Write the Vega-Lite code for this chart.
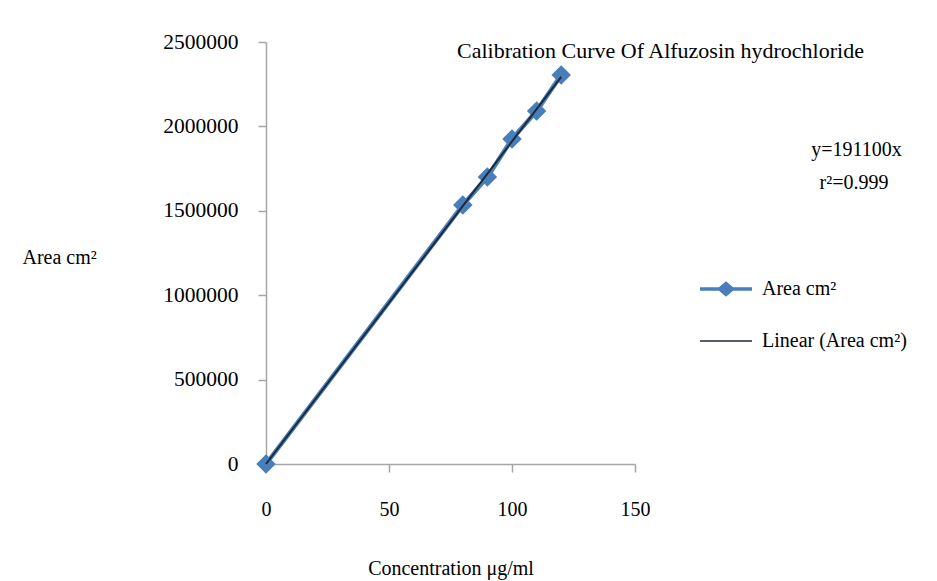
{
  "$schema": "https://vega.github.io/schema/vega-lite/v6.json",
  "autosize": "none",
  "width": 369,
  "height": 422,
  "padding": {"left": 266, "top": 42, "right": 302, "bottom": 117},
  "background": "white",
  "config": {
    "view": {"stroke": null},
    "font": "Liberation Serif",
    "axis": {"grid": false, "domainColor": "#a6a6a6", "tickColor": "#a6a6a6", "domainWidth": 1.5, "tickWidth": 1.5, "labelFont": "Liberation Serif", "titleFont": "Liberation Serif", "labelColor": "#000000", "titleColor": "#000000", "titleFontWeight": "normal", "labelFontSize": 20, "titleFontSize": 20}
  },
  "title": {"text": "Calibration Curve Of Alfuzosin hydrochloride", "anchor": "start", "frame": "group", "dx": 191, "offset": 0, "baseline": "middle", "dy": 42, "font": "Liberation Serif", "fontSize": 22, "fontWeight": "normal", "color": "#000000"},
  "datasets": {
    "pts": [
      {"conc": 0, "area": 0, "series": "Area cm²"},
      {"conc": 80, "area": 1534000, "series": "Area cm²"},
      {"conc": 90, "area": 1700000, "series": "Area cm²"},
      {"conc": 100, "area": 1925000, "series": "Area cm²"},
      {"conc": 110, "area": 2091000, "series": "Area cm²"},
      {"conc": 120, "area": 2304000, "series": "Area cm²"}
    ],
    "trend": [
      {"conc": 0, "area": 0, "series": "Linear (Area cm²)"},
      {"conc": 120, "area": 2293200, "series": "Linear (Area cm²)"}
    ],
    "notes": [
      {"conc": 240, "area": 1862000, "label": "y=191100x"},
      {"conc": 239, "area": 1667000, "label": "r²=0.999"}
    ]
  },
  "layer": [
    {
      "data": {"name": "pts"},
      "mark": {"type": "line", "strokeWidth": 4.5},
      "encoding": {
        "x": {"field": "conc", "type": "quantitative", "scale": {"domain": [0, 150], "nice": false}, "axis": {"values": [0, 50, 100, 150], "tickSize": 8, "labelPadding": 27, "labelFlush": false, "title": "Concentration μg/ml", "titleY": 104, "titleBaseline": "middle"}},
        "y": {"field": "area", "type": "quantitative", "scale": {"domain": [0, 2500000], "nice": false}, "axis": {"values": [0, 500000, 1000000, 1500000, 2000000, 2500000], "format": "d", "tickSize": 8, "labelPadding": 20, "labelFontSize": 21.5, "title": "Area cm²", "titleAngle": 0, "titleAlign": "left", "titleBaseline": "middle", "titleX": -244, "titleY": 215}},
        "color": {"field": "series", "type": "nominal", "scale": {"domain": ["Area cm²", "Linear (Area cm²)"], "range": ["#4a7ebb", "#1c2a3a"]},
          "legend": {"title": null, "orient": "none", "legendX": 434, "legendY": 221, "symbolSize": 2704, "rowPadding": 16, "labelOffset": 10, "labelFont": "Liberation Serif", "labelFontSize": 20, "labelColor": "#000000",
            "encode": {"symbols": {"update": {
              "shape": {"signal": "datum.value == 'Area cm²' ? 'M-1,-0.07H-0.27L0,-0.3L0.27,-0.07H1V0.07H0.27L0,0.3L-0.27,0.07H-1Z' : 'M-1,-0.03H1V0.03H-1Z'"},
              "fill": {"signal": "datum.value == 'Area cm²' ? '#4a7ebb' : '#1c2a3a'"},
              "strokeWidth": {"value": 0},
              "fillOpacity": {"value": 1}
            }}}}}
      }
    },
    {
      "data": {"name": "pts"},
      "mark": {"type": "point", "shape": "diamond", "filled": true, "size": 380, "opacity": 1, "color": "#4a7ebb"},
      "encoding": {
        "x": {"field": "conc", "type": "quantitative"},
        "y": {"field": "area", "type": "quantitative"}
      }
    },
    {
      "data": {"name": "trend"},
      "mark": {"type": "line", "strokeWidth": 2},
      "encoding": {
        "x": {"field": "conc", "type": "quantitative"},
        "y": {"field": "area", "type": "quantitative"},
        "color": {"field": "series", "type": "nominal"}
      }
    },
    {
      "data": {"name": "notes"},
      "mark": {"type": "text", "font": "Liberation Serif", "fontSize": 20, "color": "#000000", "align": "center", "baseline": "middle"},
      "encoding": {
        "x": {"field": "conc", "type": "quantitative"},
        "y": {"field": "area", "type": "quantitative"},
        "text": {"field": "label"}
      }
    }
  ]
}
